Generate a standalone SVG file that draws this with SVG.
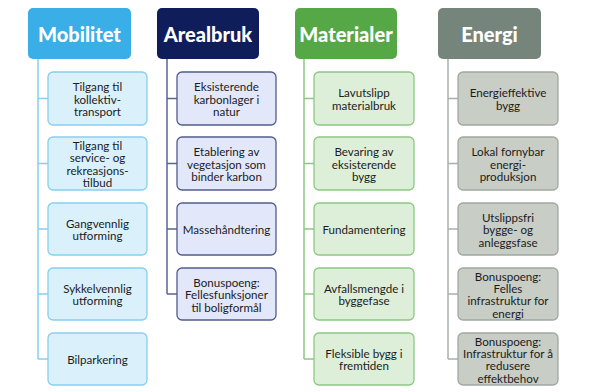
<svg xmlns="http://www.w3.org/2000/svg" width="605" height="392" viewBox="0 0 605 392">
<style>
.hd{font-family:Lato,"Open Sans","DejaVu Sans",sans-serif;font-weight:900;font-size:20px;fill:#fff;text-anchor:middle;dominant-baseline:central}
.tx{font-family:Lato,"Open Sans","DejaVu Sans",sans-serif;font-size:11.6px;fill:#1c1c1c;text-anchor:middle;dominant-baseline:central}
.mob-h{fill:#3AAEE6}
.mob-c{fill:#DAF1FC;stroke:#86CFF0;stroke-width:1.3}
.are-h{fill:#0F1E5A}
.are-c{fill:#E2E8FA;stroke:#515C8C;stroke-width:1.3}
.mat-h{fill:#56A846}
.mat-c{fill:#DDEFD9;stroke:#8CC882;stroke-width:1.3}
.ene-h{fill:#76857B}
.ene-c{fill:#C8CDC6;stroke:#A0A8A1;stroke-width:1.3}
.ln{fill:none;stroke-width:1.5}
</style>
<rect width="605" height="392" fill="#fff"/>
<g id="connectors">
<path class="ln" stroke="#86CFF0" d="M38 59V359M38 98.5H48M38 163.5H48M38 229H48M38 294H48M38 359H48"/>
<path class="ln" stroke="#5B6593" d="M167 59V294M167 98.5H177M167 163.5H177M167 229H177M167 294H177"/>
<path class="ln" stroke="#8CC882" d="M304 59V359M304 98.5H314M304 163.5H314M304 229H314M304 294H314M304 359H314"/>
<path class="ln" stroke="#A9B1AB" d="M448 59V359M448 98.5H458M448 163.5H458M448 229H458M448 294H458M448 359H458"/>
</g>
<g id="mobilitet"><rect class="mob-h" x="28" y="8" width="103" height="51" rx="5"/><text class="hd" x="79.5" y="33.5">Mobilitet</text></g>
<g id="arealbruk"><rect class="are-h" x="157" y="8" width="102" height="51" rx="5"/><text class="hd" x="208" y="33.5">Arealbruk</text></g>
<g id="materialer"><rect class="mat-h" x="295" y="8" width="102" height="51" rx="5"/><text class="hd" x="346" y="33.5">Materialer</text></g>
<g id="energi"><rect class="ene-h" x="438" y="8" width="103" height="51" rx="5"/><text class="hd" x="489.5" y="33.5">Energi</text></g>

<g id="mob1"><rect class="mob-c" x="48" y="72" width="99" height="53" rx="5"/><text class="tx"><tspan x="97.5" y="86">Tilgang til</tspan><tspan x="97.5" y="98.5">kollektiv-</tspan><tspan x="97.5" y="111">transport</tspan></text></g>
<g id="mob2"><rect class="mob-c" x="48" y="137" width="99" height="53" rx="5"/><text class="tx"><tspan x="97.5" y="145">Tilgang til</tspan><tspan x="97.5" y="157.3">service- og</tspan><tspan x="97.5" y="169.6">rekreasjons-</tspan><tspan x="97.5" y="181.9">tilbud</tspan></text></g>
<g id="mob3"><rect class="mob-c" x="48" y="203" width="99" height="52" rx="5"/><text class="tx"><tspan x="97.5" y="222.8">Gangvennlig</tspan><tspan x="97.5" y="235.2">utforming</tspan></text></g>
<g id="mob4"><rect class="mob-c" x="48" y="268" width="99" height="52" rx="5"/><text class="tx"><tspan x="97.5" y="287.8">Sykkelvennlig</tspan><tspan x="97.5" y="300.2">utforming</tspan></text></g>
<g id="mob5"><rect class="mob-c" x="48" y="333" width="99" height="52" rx="5"/><text class="tx" x="97.5" y="359">Bilparkering</text></g>

<g id="are1"><rect class="are-c" x="177" y="72" width="99" height="53" rx="5"/><text class="tx"><tspan x="226.5" y="86">Eksisterende</tspan><tspan x="226.5" y="98.5">karbonlager i</tspan><tspan x="226.5" y="111">natur</tspan></text></g>
<g id="are2"><rect class="are-c" x="177" y="137" width="99" height="53" rx="5"/><text class="tx"><tspan x="226.5" y="151">Etablering av</tspan><tspan x="226.5" y="163.5">vegetasjon som</tspan><tspan x="226.5" y="176">binder karbon</tspan></text></g>
<g id="are3"><rect class="are-c" x="177" y="203" width="99" height="52" rx="5"/><text class="tx" x="226.5" y="229">Massehåndtering</text></g>
<g id="are4"><rect class="are-c" x="177" y="268" width="99" height="52" rx="5"/><text class="tx"><tspan x="226.5" y="281.5">Bonuspoeng:</tspan><tspan x="226.5" y="294">Fellesfunksjoner</tspan><tspan x="226.5" y="306.5">til boligformål</tspan></text></g>

<g id="mat1"><rect class="mat-c" x="314" y="72" width="100" height="53" rx="5"/><text class="tx"><tspan x="364" y="92.3">Lavutslipp</tspan><tspan x="364" y="104.7">materialbruk</tspan></text></g>
<g id="mat2"><rect class="mat-c" x="314" y="137" width="100" height="53" rx="5"/><text class="tx"><tspan x="364" y="151">Bevaring av</tspan><tspan x="364" y="163.5">eksisterende</tspan><tspan x="364" y="176">bygg</tspan></text></g>
<g id="mat3"><rect class="mat-c" x="314" y="203" width="100" height="52" rx="5"/><text class="tx" x="364" y="229">Fundamentering</text></g>
<g id="mat4"><rect class="mat-c" x="314" y="268" width="100" height="52" rx="5"/><text class="tx"><tspan x="364" y="287.8">Avfallsmengde i</tspan><tspan x="364" y="300.2">byggefase</tspan></text></g>
<g id="mat5"><rect class="mat-c" x="314" y="333" width="100" height="52" rx="5"/><text class="tx"><tspan x="364" y="352.8">Fleksible bygg i</tspan><tspan x="364" y="365.2">fremtiden</tspan></text></g>

<g id="ene1"><rect class="ene-c" x="458" y="72" width="100" height="53" rx="5"/><text class="tx"><tspan x="508" y="92.3">Energieffektive</tspan><tspan x="508" y="104.7">bygg</tspan></text></g>
<g id="ene2"><rect class="ene-c" x="458" y="137" width="100" height="53" rx="5"/><text class="tx"><tspan x="508" y="151">Lokal fornybar</tspan><tspan x="508" y="163.5">energi-</tspan><tspan x="508" y="176">produksjon</tspan></text></g>
<g id="ene3"><rect class="ene-c" x="458" y="203" width="100" height="52" rx="5"/><text class="tx"><tspan x="508" y="216.5">Utslippsfri</tspan><tspan x="508" y="229">bygge- og</tspan><tspan x="508" y="241.5">anleggsfase</tspan></text></g>
<g id="ene4"><rect class="ene-c" x="458" y="268" width="100" height="52" rx="5"/><text class="tx"><tspan x="508" y="275.5">Bonuspoeng:</tspan><tspan x="508" y="287.8">Felles</tspan><tspan x="508" y="300.2">infrastruktur for</tspan><tspan x="508" y="312.5">energi</tspan></text></g>
<g id="ene5"><rect class="ene-c" x="458" y="333" width="100" height="52" rx="5"/><text class="tx"><tspan x="508" y="340.5">Bonuspoeng:</tspan><tspan x="508" y="352.8">Infrastruktur for å</tspan><tspan x="508" y="365.2">redusere</tspan><tspan x="508" y="377.5">effektbehov</tspan></text></g>
</svg>
